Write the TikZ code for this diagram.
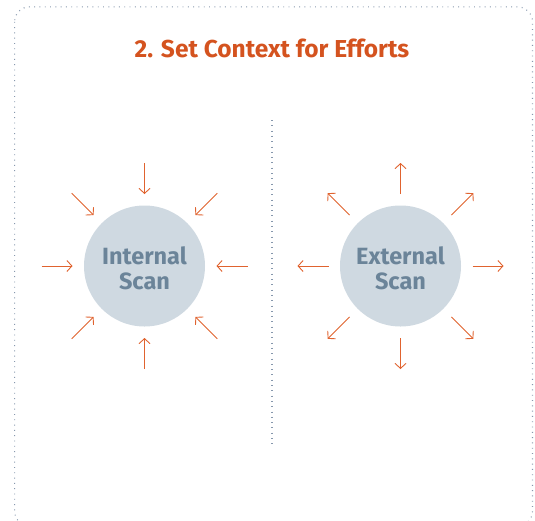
\documentclass[tikz,border=0pt]{standalone}
\usepackage{fontspec}
\setmainfont{Fira Sans}
\usetikzlibrary{arrows.meta}
\definecolor{titleorange}{HTML}{D4531F}
\definecolor{arroworange}{HTML}{E0632F}
\definecolor{circlefill}{HTML}{CFD9E1}
\definecolor{circletext}{HTML}{6B8499}
\definecolor{dotgray}{HTML}{8798AD}
\tikzset{
  scanarrow/.style={draw=arroworange, line width=0.9pt, -{Straight Barb[length=5pt,width=11pt,line width=0.9pt]}},
  scancircle/.style={circle, fill=circlefill, minimum size=121pt, inner sep=0pt},
  scantext/.style={text=circletext, font=\fontsize{23.5}{25}\selectfont\bfseries, align=center, inner sep=0pt},
  dotline/.style={draw=dotgray, line width=1.1pt, dash pattern=on 0.9pt off 4.4pt},
}
\begin{document}
\begin{tikzpicture}[x=1pt,y=-1pt]
\useasboundingbox (0,0) rectangle (535,520);
\draw[dotline, rounded corners=15pt] (14.6,6.8) rectangle (532.5,526);
\node[text=titleorange, font=\fontsize{24.5}{26}\selectfont\bfseries] (title) at (272,48) {2. Set Context for Efforts};
\coordinate (divtop) at (272,120);
\coordinate (divbot) at (272,448);
\draw[dotline] (divtop) -- (divbot);
\node[scancircle] (int) at (144.5,266) {};
\node[scancircle] (ext) at (400.5,266) {};
\node[scantext] (inttext) at ([yshift=-2.5pt]int.center) {Internal\\Scan};
\node[scantext] (exttext) at ([yshift=-2.5pt]ext.center) {External\\Scan};
\foreach \a in {0,45,...,315}{
  \draw[scanarrow] ([shift={(\a:103)}]int.center) -- ([shift={(\a:72)}]int.center);
  \draw[scanarrow] ([shift={(\a:72)}]ext.center) -- ([shift={(\a:103)}]ext.center);
}
\end{tikzpicture}
\end{document}
